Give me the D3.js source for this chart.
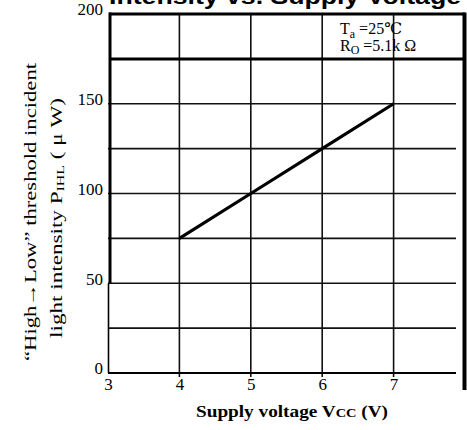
<!DOCTYPE html>
<html>
<head>
<meta charset="utf-8">
<script src="https://cdn.jsdelivr.net/npm/d3@7"></script>
<style>
  html, body { margin: 0; padding: 0; background: #fff; }
  svg { display: block; }
  .serif { font-family: "Liberation Serif", "DejaVu Serif", serif; }
</style>
</head>
<body>
<svg id="chart" width="467" height="430"></svg>
<script>
// Threshold incident light intensity vs. supply voltage
const supplyVoltage = [4, 5, 6, 7];
const thresholdIntensity = [75, 100, 125, 150];
const xTickValues = [3, 4, 5, 6, 7];
const yTickValues = [0, 50, 100, 150, 200];
const xGridValues = [4, 5, 6, 7];
const yGridValues = [25, 50, 75, 100, 125, 150];

const svg = d3.select("#chart");
const x = d3.scaleLinear().domain([3, 8]).range([108, 465]);
const y = d3.scaleLinear().domain([0, 200]).range([373, 14]);

// Title (partly above the page edge)
svg.append("text")
  .attr("x", 285).attr("y", 4)
  .attr("text-anchor", "middle")
  .attr("font-family", "Liberation Sans, Arial, sans-serif")
  .attr("font-weight", "bold")
  .attr("font-size", 22)
  .attr("textLength", 352)
  .attr("lengthAdjust", "spacingAndGlyphs")
  .text("Intensity  vs. Supply Voltage");

const grid = svg.append("g");

// horizontal grid
grid.selectAll("line.h").data(yGridValues).join("line")
  .attr("x1", x(3)).attr("x2", 456)
  .attr("y1", d => y(d)).attr("y2", d => y(d))
  .attr("stroke", "#111").attr("stroke-width", 1.6);

// vertical grid
grid.selectAll("line.v").data(xGridValues).join("line")
  .attr("x1", d => x(d)).attr("x2", d => x(d))
  .attr("y1", y(200)).attr("y2", y(0) + 4)
  .attr("stroke", "#111").attr("stroke-width", 1.6);

// top border and condition box separator
[200, 175].forEach(v => {
  grid.append("line")
    .attr("x1", x(3) + 1).attr("x2", 465)
    .attr("y1", y(v)).attr("y2", y(v))
    .attr("stroke", "#000").attr("stroke-width", 3);
});

// left frame: heavy above 50, lighter below
grid.append("line")
  .attr("x1", 110).attr("x2", 110)
  .attr("y1", y(200) - 1.5).attr("y2", y(50))
  .attr("stroke", "#000").attr("stroke-width", 3);
grid.append("line")
  .attr("x1", 108.5).attr("x2", 108.5)
  .attr("y1", y(50)).attr("y2", y(0))
  .attr("stroke", "#000").attr("stroke-width", 1.6);

// bottom axis line
grid.append("line")
  .attr("x1", 108).attr("x2", 456)
  .attr("y1", y(0)).attr("y2", y(0))
  .attr("stroke", "#000").attr("stroke-width", 2.2);

// right frame
grid.append("line")
  .attr("x1", 464.5).attr("x2", 464.5)
  .attr("y1", y(200) - 1.5).attr("y2", 390)
  .attr("stroke", "#000").attr("stroke-width", 4);

// data line
const line = d3.line().x(d => x(d[0])).y(d => y(d[1]));
svg.append("path")
  .datum(supplyVoltage.map((v, i) => [v, thresholdIntensity[i]]))
  .attr("d", line)
  .attr("fill", "none")
  .attr("stroke", "#000")
  .attr("stroke-width", 3.2);

// axes (labels only)
const xAxis = svg.append("g")
  .attr("transform", `translate(0,${y(0) + 2})`)
  .call(d3.axisBottom(x).tickValues(xTickValues).tickSize(0).tickPadding(3).tickFormat(d3.format("d")));
xAxis.select(".domain").remove();
xAxis.selectAll("text").attr("class", "serif").attr("font-size", 17).attr("fill", "#000");

const yAxis = svg.append("g")
  .attr("transform", `translate(103,0)`)
  .call(d3.axisLeft(y).tickValues(yTickValues).tickSize(0).tickPadding(0).tickFormat(d3.format("d")));
yAxis.select(".domain").remove();
yAxis.selectAll("text").attr("class", "serif").attr("font-size", 17).attr("fill", "#000")
  .attr("dy", "0.05em");

// condition annotation
const note = svg.append("g").attr("class", "serif").attr("font-size", 16).attr("fill", "#000");
const t1 = note.append("text").attr("x", 340).attr("y", 34);
t1.append("tspan").text("T");
t1.append("tspan").attr("font-size", 12).attr("dy", 4).text("a");
t1.append("tspan").attr("dy", -4).text(" =25℃");
const t2 = note.append("text").attr("x", 340).attr("y", 51);
t2.append("tspan").text("R");
t2.append("tspan").attr("font-size", 12).attr("dy", 3).text("O");
t2.append("tspan").attr("dy", -3).text(" =5.1k Ω");

// x axis title
const xt = svg.append("text")
  .attr("class", "serif")
  .attr("x", 292).attr("y", 417)
  .attr("text-anchor", "middle")
  .attr("font-weight", "bold")
  .attr("font-size", 16)
  .attr("textLength", 192)
  .attr("lengthAdjust", "spacingAndGlyphs")
  .attr("fill", "#000");
xt.append("tspan").text("Supply  voltage  V");
xt.append("tspan").attr("font-size", 12).text("CC");
xt.append("tspan").text(" (V)");

// y axis title (two lines)
const yt = svg.append("g").attr("class", "serif").attr("font-size", 16).attr("fill", "#000");
yt.append("text")
  .attr("transform", "translate(36,212) rotate(-90)")
  .attr("text-anchor", "middle")
  .attr("textLength", 298)
  .attr("lengthAdjust", "spacingAndGlyphs")
  .text("“High→Low” threshold incident");
const yl2 = yt.append("text")
  .attr("transform", "translate(62,218) rotate(-90)")
  .attr("text-anchor", "middle")
  .attr("textLength", 240)
  .attr("lengthAdjust", "spacingAndGlyphs");
yl2.append("tspan").text("light intensity P");
yl2.append("tspan").attr("font-size", 11).attr("dy", 2).text("IHL");
yl2.append("tspan").attr("dy", -2).text(" ( μ W)");
</script>
</body>
</html>
